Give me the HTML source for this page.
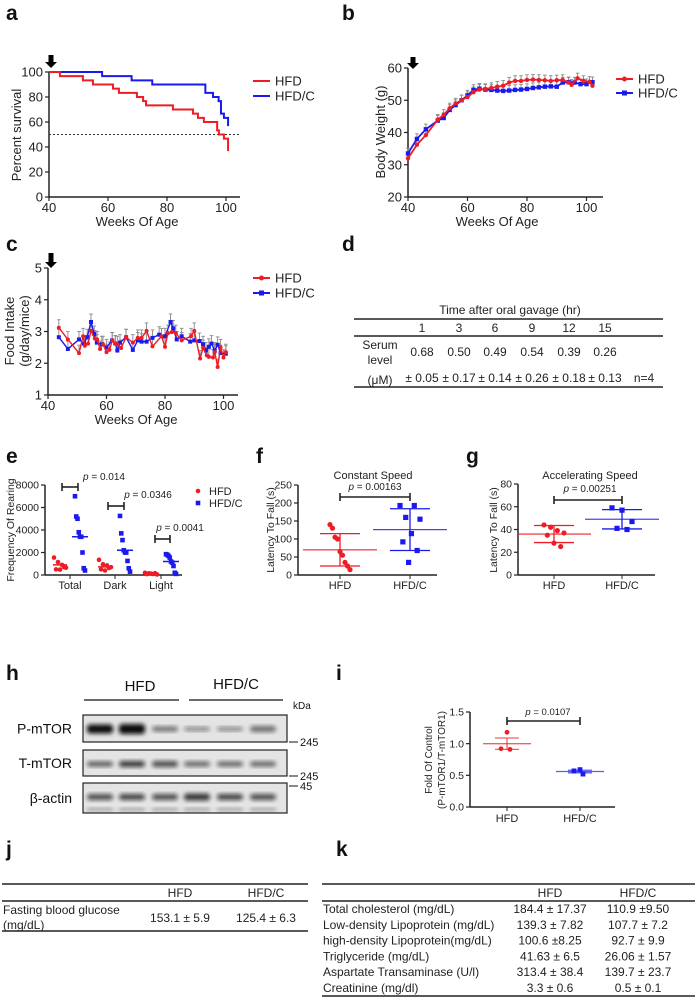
<!DOCTYPE html>
<html><head><meta charset="utf-8"><style>
body{margin:0;background:#fff}
svg{display:block;font-family:"Liberation Sans",sans-serif}
</style></head><body>
<svg id="fig" width="696" height="998" viewBox="0 0 696 998" xmlns="http://www.w3.org/2000/svg">
<defs><filter id="blur" x="-20%" y="-50%" width="140%" height="200%"><feGaussianBlur stdDeviation="2.2"/></filter></defs>
<g font-weight="bold" font-size="21" fill="#111">
<text x="6" y="20">a</text>
<text x="342" y="20">b</text>
<text x="6" y="251">c</text>
<text x="342" y="251">d</text>
<text x="6" y="463">e</text>
<text x="256" y="463">f</text>
<text x="466" y="463">g</text>
<text x="6" y="680">h</text>
<text x="336" y="680">i</text>
<text x="6" y="856">j</text>
<text x="336" y="856">k</text>
</g>
<g font-size="12" fill="#222">
<text x="510" y="314" text-anchor="middle">Time after oral gavage (hr)</text>
<line x1="354" y1="319" x2="663" y2="319" stroke="#222" stroke-width="1.5"/>
<line x1="354" y1="336" x2="663" y2="336" stroke="#222" stroke-width="1.5"/>
<line x1="354" y1="387" x2="663" y2="387" stroke="#222" stroke-width="1.5"/>
<g text-anchor="middle">
<text x="422" y="332">1</text><text x="459" y="332">3</text><text x="495" y="332">6</text><text x="532" y="332">9</text><text x="569" y="332">12</text><text x="605" y="332">15</text>
<text x="380" y="349">Serum</text><text x="380" y="364">level</text><text x="380" y="384">(μM)</text>
<text x="422" y="356">0.68</text><text x="459" y="356">0.50</text><text x="495" y="356">0.49</text><text x="532" y="356">0.54</text><text x="569" y="356">0.39</text><text x="605" y="356">0.26</text>
<text x="422" y="382">± 0.05</text><text x="459" y="382">± 0.17</text><text x="495" y="382">± 0.14</text><text x="532" y="382">± 0.26</text><text x="569" y="382">± 0.18</text><text x="605" y="382">± 0.13</text>
<text x="644" y="382">n=4</text>
</g></g>
<g font-size="12" fill="#222">
<line x1="2" y1="884" x2="308" y2="884" stroke="#222" stroke-width="1.5"/>
<line x1="2" y1="901" x2="308" y2="901" stroke="#222" stroke-width="1.5"/>
<line x1="2" y1="931" x2="308" y2="931" stroke="#222" stroke-width="1.5"/>
<text x="180" y="897" text-anchor="middle">HFD</text><text x="266" y="897" text-anchor="middle">HFD/C</text>
<text x="3" y="914">Fasting blood glucose</text><text x="3" y="929">(mg/dL)</text>
<text x="180" y="922" text-anchor="middle">153.1 ± 5.9</text><text x="266" y="922" text-anchor="middle">125.4 ± 6.3</text>
</g>
<g font-size="12" fill="#222">
<line x1="322" y1="884" x2="695" y2="884" stroke="#222" stroke-width="1.5"/>
<line x1="322" y1="901" x2="695" y2="901" stroke="#222" stroke-width="1.5"/>
<line x1="322" y1="996" x2="695" y2="996" stroke="#222" stroke-width="1.5"/>
<text x="550" y="897" text-anchor="middle">HFD</text><text x="638" y="897" text-anchor="middle">HFD/C</text>
<g id="krows"></g>
</g>
<g id="blot"></g>
<g id="charts"></g>
</svg>
<script>
// ===== DATA =====
const aHfdWeeks=[40,43.7,51.5,54.9,61.7,63.7,69.8,71.9,72.9,82,88.8,90.5,92.5,97,97.6,99.3,100.7];
const aHfdSurv=[100,96.7,93.3,90,86.7,83.3,80,76.7,73.3,70,66.7,63.3,60,53.3,50,46.7,36.7];
const aCWeeks=[40,58,68,75,93,95.6,97.5,98.3,99.3,100.7];
const aCSurv=[100,96.7,93.3,90,83.3,80,76.7,66.7,63.3,56.7];
const xTicks=[40,60,80,100];
const bHfdWeeks=[40,43,46,50,52,54,56,58,60,62,64,66,68,70,72,74,76,78,80,82,84,86,88,90,92,94,95,97,99,101,102];
const bHfdW=[32,36.2,39.2,44,45.5,47.5,49,50,51,52.5,53.3,53.5,53.8,54.2,54.5,55.5,56,56,56.3,56.4,56.3,56.2,56,56.2,56.3,55.5,54.8,56.8,56,55.7,54.5];
const bCWeeks=[40,43,46,50,52,54,56,58,60,62,64,66,68,70,72,74,76,78,80,82,84,86,88,90,92,94,96,98,100,102];
const bCW=[33.5,38,41,43.7,44.5,47,48.5,50,51.5,53.2,53.6,53.3,53.2,53,52.9,53,53.2,53.3,53.5,53.8,54,54.2,54.3,54.2,55.5,55.6,55.5,55,55,55.6];
const bErr=1.6;
const cHfdWeeks=[43.7,46.8,50.6,52,52.6,53.7,54.7,56,56.8,57.8,58.8,60,61,62,63,63.7,65,66.7,69,70.7,72,73.7,75.7,78.8,80,81,82.3,83.7,85.7,88.9,90,92,93,94.3,95,96.4,97,98,99,100,100.8];
const cHfdFood=[3.12,2.75,2.32,2.85,2.55,2.62,3.02,2.78,2.75,2.45,2.6,2.35,2.42,2.72,2.62,2.6,2.48,2.82,2.65,2.8,2.8,3.02,2.53,2.85,2.52,2.95,2.98,2.95,2.72,2.85,3.02,2.15,2.48,2.25,2.2,2.18,2.35,1.88,2.5,2.18,2.35];
const cCWeeks=[43.7,46.8,50.6,52.3,53.4,54.7,55.8,56.7,58.4,60,61.9,63,63.7,64.6,66.7,69,70.7,72,73.7,75.7,78,80,81.9,82.8,84,85.7,88.6,90,91.8,93,94,95,95.9,97,98,99,100.8];
const cCFood=[2.82,2.45,2.75,2.62,2.82,3.3,2.92,2.65,2.6,2.5,2.72,2.62,2.4,2.65,2.82,2.42,2.72,2.68,2.68,2.8,2.9,2.85,3.3,3.1,2.75,2.85,2.68,2.72,2.7,2.6,2.4,2.52,2.62,2.4,2.58,2.32,2.3];
const cErr=0.25;
const eCats=["Total","Dark","Light"];
const eHfd=[[1550,1150,900,650,500,480,700],[1350,950,850,700,500,400,620],[200,150,90,50,80,120,160]];
const eHfdC=[[7000,5200,5000,3800,3400,3400,2000,600,400],[5250,3700,3100,2200,2000,2000,1250,600,300],[1850,1800,1700,1550,1200,1100,800,200,100]];
const eMedHfd=[900,720,110];
const eMedC=[3400,2200,1200];
const ePvals=["p = 0.014","p = 0.0346","p = 0.0041"];
const eYTicks=[0,2000,4000,6000,8000];
const fGroups=["HFD","HFD/C"];
const fHfd=[140,130,105,100,65,55,35,25,15];
const fC=[193,193,160,155,115,92,68,35];
const fMean=[70,126]; const fSd=[45,58];
const fYTicks=[0,50,100,150,200,250];
const gHfd=[44,42,39,37,35,28,25];
const gC=[59,57,47,41,40];
const gMean=[36,49]; const gSd=[7.5,8.5];
const gYTicks=[0,20,40,60,80];
const iHfd=[1.18,0.92,0.91];
const iC=[0.59,0.57,0.52];
const iMean=[1.0,0.56]; const iSem=[0.09,0.02];
const iYTicks=[0.0,0.5,1.0,1.5];
const kLabels=["Total cholesterol (mg/dL)","Low-density Lipoprotein (mg/dL)","high-density Lipoprotein(mg/dL)","Triglyceride (mg/dL)","Aspartate Transaminase (U/l)","Creatinine (mg/dl)"];
const kHfd=["184.4 ± 17.37","139.3 ± 7.82","100.6 ±8.25","41.63 ± 6.5","313.4 ± 38.4","3.3 ± 0.6"];
const kC=["110.9 ±9.50","107.7 ± 7.2","92.7 ± 9.9","26.06 ± 1.57","139.7 ± 23.7","0.5 ± 0.1"];

const NS="http://www.w3.org/2000/svg";
const root=document.getElementById('charts');
function mk(tag,attrs,parent,txt){const e=document.createElementNS(NS,tag);for(const k in attrs)e.setAttribute(k,attrs[k]);if(txt!==undefined)e.textContent=txt;(parent||root).appendChild(e);return e;}
const RED="#ee1c25",BLUE="#1a1aee";

const kr=document.getElementById('krows');
kLabels.forEach((l,i)=>{const y=913+i*15.8;
 let t=mk('text',{x:323,y:y},kr,l);
 
 
 t=mk('text',{x:550,y:y,'text-anchor':'middle'},kr,kHfd[i]);
 
 
 t=mk('text',{x:638,y:y,'text-anchor':'middle'},kr,kC[i]);
 
 
});

function axes(g,x0,y0,x1,yTop,ticksY,sy,ticksX,sx,fs,fmt){
 mk('line',{x1:x0,y1:y0,x2:x0,y2:yTop,stroke:'#222','stroke-width':1.5},g);
 mk('line',{x1:x0,y1:y0,x2:x1,y2:y0,stroke:'#222','stroke-width':1.5},g);
 ticksY.forEach(v=>{const y=sy(v);
  mk('line',{x1:x0-4,y1:y,x2:x0,y2:y,stroke:'#222','stroke-width':1.2},g);
  const t=mk('text',{x:x0-6,y:y+fs*0.35,'text-anchor':'end','font-size':fs,fill:'#222'},g,fmt?fmt(v):v);
  
  
 });
 if(ticksX)ticksX.forEach(v=>{const x=sx(v);
  mk('line',{x1:x,y1:y0,x2:x,y2:y0+4,stroke:'#222','stroke-width':1.2},g);
  const t=mk('text',{x:x,y:y0+15,'text-anchor':'middle','font-size':fs,fill:'#222'},g,v);
  
  
 });
}
function arrow(g,x,y1,y2){mk('rect',{x:x-2.5,y:y1,width:5,height:y2-y1-5},g);mk('polygon',{points:`${x-6},${y2-6} ${x+6},${y2-6} ${x},${y2}`},g);}
function legend(g,x,y,col,label,mark){
 mk('line',{x1:x,y1:y,x2:x+17,y2:y,stroke:col,'stroke-width':2},g);
 if(mark==='c')mk('circle',{cx:x+8.5,cy:y,r:2.5,fill:col},g);
 if(mark==='s')mk('rect',{x:x+6,y:y-2.5,width:5,height:5,fill:col},g);
 const t=mk('text',{x:x+22,y:y+4.5,'font-size':13,fill:'#222'},g,label);
 
 
}
function ylabel(g,x,y,txt,fs){const t=mk('text',{x:x,y:y,'font-size':fs,fill:'#222','text-anchor':'middle',transform:`rotate(-90 ${x} ${y})`},g,txt);
 
 }
function xlabel(g,x,y,txt){const t=mk('text',{x:x,y:y,'font-size':13,fill:'#222','text-anchor':'middle'},g,txt);
 
 }

// ===== Panel a =====
{const g=mk('g',{});
 
 
 const sx=w=>49+(w-40)*59/20, sy=v=>197-v*1.25;
 axes(g,49,197,240,72,[0,20,40,60,80,100],sy,xTicks,sx,13);
 arrow(g,51,55,68);
 mk('line',{x1:49,y1:sy(50),x2:240,y2:sy(50),stroke:'#333','stroke-dasharray':'2,2','stroke-width':1},g);
 function step(T,V,col,name){let d=`M${sx(T[0])},${sy(V[0])}`;for(let i=1;i<T.length;i++){d+=` H${sx(T[i])} V${sy(V[i])}`;}
  const p=mk('path',{d:d,fill:'none',stroke:col,'stroke-width':2},g);
  
  }
 step(aCWeeks,aCSurv,BLUE,'survival-line-hfdc');
 step(aHfdWeeks,aHfdSurv,RED,'survival-line-hfd');
 ylabel(g,21,135,'Percent survival',13); xlabel(g,137,226,'Weeks Of Age');
 legend(g,253,81,RED,'HFD');legend(g,253,96,BLUE,'HFD/C');}

// ===== Panel b =====
{const g=mk('g',{});
 
 
 const sx=w=>408+(w-40)*59.5/20, sy=v=>197-(v-20)*3.225;
 axes(g,408,197,603,68,[20,30,40,50,60],sy,xTicks,sx,13);
 arrow(g,413,57,69);
 [[bHfdWeeks,bHfdW],[bCWeeks,bCW]].forEach(([T,V])=>T.forEach((t,i)=>{const x=sx(t),y=sy(V[i]),y2=sy(V[i]+bErr);
  mk('line',{x1:x,y1:y,x2:x,y2:y2,stroke:'#888','stroke-width':0.9},g);mk('line',{x1:x-1.8,y1:y2,x2:x+1.8,y2:y2,stroke:'#888','stroke-width':0.9},g);}));
 function ser(T,V,col,mark,name){const pts=T.map((t,i)=>`${sx(t)},${sy(V[i])}`).join(' ');
  const p=mk('polyline',{points:pts,fill:'none',stroke:col,'stroke-width':1.8},g);
  
  
  T.forEach((t,i)=>{let m;if(mark==='c')m=mk('circle',{cx:sx(t),cy:sy(V[i]),r:2.2,fill:col},g);else m=mk('rect',{x:sx(t)-2.2,y:sy(V[i])-2.2,width:4.4,height:4.4,fill:col},g);
   
   });}
 ser(bCWeeks,bCW,BLUE,'s','weight-line-hfdc');ser(bHfdWeeks,bHfdW,RED,'c','weight-line-hfd');
 ylabel(g,385,132,'Body Weight (g)',13); xlabel(g,497,226,'Weeks Of Age');
 legend(g,616,79,RED,'HFD','c');legend(g,616,93,BLUE,'HFD/C','s');}

// ===== Panel c =====
{const g=mk('g',{});
 
 
 const sx=w=>48+(w-40)*58.5/20, sy=v=>395-(v-1)*31.75;
 axes(g,48,395,238,268,[1,2,3,4,5],sy,xTicks,sx,13);
 arrow(g,51,253,268);
 [[cHfdWeeks,cHfdFood],[cCWeeks,cCFood]].forEach(([T,V])=>T.forEach((t,i)=>{const x=sx(t),y=sy(V[i]),y2=sy(V[i]+cErr);
  mk('line',{x1:x,y1:y,x2:x,y2:y2,stroke:'#888','stroke-width':0.9},g);mk('line',{x1:x-1.8,y1:y2,x2:x+1.8,y2:y2,stroke:'#888','stroke-width':0.9},g);}));
 function ser(T,V,col,mark,name){const pts=T.map((t,i)=>`${sx(t)},${sy(V[i])}`).join(' ');
  const p=mk('polyline',{points:pts,fill:'none',stroke:col,'stroke-width':1.4},g);
  
  
  T.forEach((t,i)=>{let m;if(mark==='c')m=mk('circle',{cx:sx(t),cy:sy(V[i]),r:2,fill:col},g);else m=mk('rect',{x:sx(t)-2,y:sy(V[i])-2,width:4,height:4,fill:col},g);
   
   });}
 ser(cCWeeks,cCFood,BLUE,'s','food-line-hfdc');ser(cHfdWeeks,cHfdFood,RED,'c','food-line-hfd');
 ylabel(g,14,331,'Food Intake',13);ylabel(g,29,331,'(g/day/mice)',13); xlabel(g,136,424,'Weeks Of Age');
 legend(g,253,278,RED,'HFD','c');legend(g,253,293,BLUE,'HFD/C','s');}

function bracket(g,x1,x2,y,ptxt,px,py,fs){mk('line',{x1:x1,y1:y,x2:x2,y2:y,stroke:'#222','stroke-width':1.6},g);
 mk('line',{x1:x1,y1:y-4,x2:x1,y2:y+4,stroke:'#222','stroke-width':1.6},g);mk('line',{x1:x2,y1:y-4,x2:x2,y2:y+4,stroke:'#222','stroke-width':1.6},g);
 const parts=ptxt.split(' = ');const t=mk('text',{x:px,y:py,'font-size':fs,fill:'#222','text-anchor':'middle'},g);
 mk('tspan',{'font-style':'italic'},t,parts[0]);mk('tspan',{},t,' = '+parts[1]);
 
 }
function jit(n,w){const a=[];for(let i=0;i<n;i++)a.push(((i*37)%n/(n-1||1)-0.5)*w);return a;}

// ===== Panel e =====
{const g=mk('g',{});
 
 
 const sy=v=>575-v*90/8000, cx=[70,115,161];
 axes(g,45,575,182,485,eYTicks,sy,null,null,10.5);
 eCats.forEach((c,i)=>{mk('line',{x1:cx[i],y1:575,x2:cx[i],y2:579,stroke:'#222'},g);
  const t=mk('text',{x:cx[i],y:589,'font-size':11,fill:'#222','text-anchor':'middle'},g,c);
  
  
  const j1=jit(eHfd[i].length,12),j2=jit(eHfdC[i].length,10);
  mk('line',{x1:cx[i]-17,y1:sy(eMedHfd[i]),x2:cx[i]-3,y2:sy(eMedHfd[i]),stroke:RED,'stroke-width':1.5},g);
  mk('line',{x1:cx[i]+2,y1:sy(eMedC[i]),x2:cx[i]+18,y2:sy(eMedC[i]),stroke:BLUE,'stroke-width':1.5},g);
  eHfd[i].forEach((v,k)=>{const m=mk('circle',{cx:cx[i]-10+j1[k],cy:sy(v),r:2.3,fill:RED},g);
   
   });
  eHfdC[i].forEach((v,k)=>{const m=mk('rect',{x:cx[i]+10+j2[k]-2.3,y:sy(v)-2.3,width:4.6,height:4.6,fill:BLUE},g);
   
   });
 });
 bracket(g,62,78,487,ePvals[0],104,480,10);
 bracket(g,108,124,506,ePvals[1],148,498,10);
 bracket(g,155,170,539,ePvals[2],180,531,10);
 ylabel(g,14,530,'Frequency Of Rearing',10.5);
 mk('circle',{cx:198,cy:491,r:2.3,fill:RED},g);mk('rect',{x:195.7,y:500.7,width:4.6,height:4.6,fill:BLUE},g);
 let t=mk('text',{x:209,y:495,'font-size':11,fill:'#222'},g,'HFD');
 
 
 t=mk('text',{x:209,y:507,'font-size':11,fill:'#222'},g,'HFD/C');
 
 }

function scatter(g,name,x0,yTop,xEnd,sy,ticks,gx,d1,d2,mean,sd,title,tx,fmt){
 axes(g,x0,575,xEnd,yTop,ticks,sy,null,null,10.5,fmt);
 fGroups.forEach((c,i)=>{mk('line',{x1:gx[i],y1:575,x2:gx[i],y2:579,stroke:'#222'},g);
  const t=mk('text',{x:gx[i],y:589,'font-size':11,fill:'#222','text-anchor':'middle'},g,c);
  
  });
 [[d1,RED,'c'],[d2,BLUE,'s']].forEach(([d,col,mk2],i)=>{const x=gx[i];
  mk('line',{x1:x-37,y1:sy(mean[i]),x2:x+37,y2:sy(mean[i]),stroke:col,'stroke-width':1.3,opacity:0.8},g);
  mk('line',{x1:x,y1:sy(mean[i]-sd[i]),x2:x,y2:sy(mean[i]+sd[i]),stroke:col,'stroke-width':1.3},g);
  [mean[i]-sd[i],mean[i]+sd[i]].forEach(v=>mk('line',{x1:x-20,y1:sy(v),x2:x+20,y2:sy(v),stroke:col,'stroke-width':1.3},g));
  const j=jit(d.length,20);
  d.forEach((v,k)=>{let m;if(mk2==='c')m=mk('circle',{cx:x+j[k],cy:sy(v),r:2.6,fill:col},g);else m=mk('rect',{x:x+j[k]-2.6,y:sy(v)-2.6,width:5.2,height:5.2,fill:col},g);
   
   });
 });
 if(title){const t=mk('text',{x:tx,y:479,'font-size':11,fill:'#222','text-anchor':'middle'},g,title);
  
  }
}
// ===== Panel f =====
{const g=mk('g',{});
 
 
 const sy=v=>575-v*90/250;
 scatter(g,'constant',298,485,437,sy,fYTicks,[340,410],fHfd,fC,fMean,fSd,'Constant Speed',373);
 bracket(g,340,410,497,'p = 0.00163',375,490,10);
 ylabel(g,274,530,'Latency To Fall (s)',10.5);}
// ===== Panel g =====
{const g=mk('g',{});
 
 
 const sy=v=>575-v*91/80;
 scatter(g,'accelerating',518,484,655,sy,gYTicks,[554,622],gHfd,gC,gMean,gSd,'Accelerating Speed',590);
 bracket(g,554,622,500,'p = 0.00251',590,492,10);
 ylabel(g,497,530,'Latency To Fall (s)',10.5);}
// ===== Panel i =====
{const g=mk('g',{});
 
 
 const sy=v=>807-v*95/1.5, gx=[507,580];
 axes(g,470,807,615,712,iYTicks,sy,null,null,10.5,v=>v.toFixed(1));
 ["HFD","HFD/C"].forEach((c,i)=>{mk('line',{x1:gx[i],y1:807,x2:gx[i],y2:811,stroke:'#222'},g);
  const t=mk('text',{x:gx[i],y:822,'font-size':11,fill:'#222','text-anchor':'middle'},g,c);
  
  });
 [[iHfd,RED,'c'],[iC,BLUE,'s']].forEach(([d,col,m2],i)=>{const x=gx[i];
  mk('line',{x1:x-24,y1:sy(iMean[i]),x2:x+24,y2:sy(iMean[i]),stroke:col,'stroke-width':1.3,opacity:0.7},g);
  mk('line',{x1:x,y1:sy(iMean[i]-iSem[i]),x2:x,y2:sy(iMean[i]+iSem[i]),stroke:col,'stroke-width':1.3,opacity:0.7},g);
  [iMean[i]-iSem[i],iMean[i]+iSem[i]].forEach(v=>mk('line',{x1:x-12,y1:sy(v),x2:x+12,y2:sy(v),stroke:col,'stroke-width':1.3,opacity:0.7},g));
  const j=[0,-6,3];
  d.forEach((v,k)=>{let m;if(m2==='c')m=mk('circle',{cx:x+j[k],cy:sy(v),r:2.4,fill:col},g);else m=mk('rect',{x:x+j[k]-2.4,y:sy(v)-2.4,width:4.8,height:4.8,fill:col},g);
   
   });});
 bracket(g,507,580,721,'p = 0.0107',548,715,9.5);
 ylabel(g,432,760,'Fold Of Control',10);ylabel(g,445,760,'(P-mTOR1/T-mTOR1)',10);}

// ===== Blot h =====
{const g=document.getElementById('blot');
 const lanes=[100,132,165,197,230,263];
 const rows=[{n:'P-mTOR',y:715,h:27,by:729,bw:[1,1,0.55,0.45,0.45,0.55],bh:[9,10,5,4,4,6]},
  {n:'T-mTOR',y:750,h:26,by:764,bw:[0.65,0.8,0.7,0.6,0.6,0.6],bh:[5,6,6,5,5,5]},
  {n:'β-actin',y:783,h:30,by:797,bw:[0.7,0.75,0.7,0.8,0.75,0.7],bh:[6,6,6,7,6,6]}];
 let t=mk('text',{x:140,y:691,'font-size':15,fill:'#111','text-anchor':'middle'},g,'HFD');
 
 
 t=mk('text',{x:236,y:689,'font-size':15,fill:'#111','text-anchor':'middle'},g,'HFD/C');
 
 
 mk('line',{x1:84,y1:700,x2:179,y2:700,stroke:'#111','stroke-width':1.2},g);
 mk('line',{x1:189,y1:700,x2:283,y2:700,stroke:'#111','stroke-width':1.2},g);
 mk('text',{x:293,y:709,'font-size':10,fill:'#111'},g,'kDa');
 rows.forEach(r=>{mk('rect',{x:83,y:r.y,width:204,height:r.h,fill:'#e4e4e4',stroke:'#222','stroke-width':1.2},g);
  const lt=mk('text',{x:72,y:r.y+r.h/2+5,'font-size':14,fill:'#111','text-anchor':'end'},g,r.n);
  
  
  lanes.forEach((x,i)=>{const b=mk('rect',{x:x-13,y:r.by-r.bh[i]/2,width:26,height:r.bh[i],rx:3,fill:'#111',opacity:r.bw[i],filter:'url(#blur)'},g);
   
   });
  if(r.n==='β-actin')lanes.forEach(x=>mk('rect',{x:x-13,y:808,width:26,height:3,fill:'#555',opacity:0.5,filter:'url(#blur)'},g));
 });
 [[742,'245'],[776,'245'],[786,'45']].forEach(([y,s])=>{mk('line',{x1:289,y1:y,x2:298,y2:y,stroke:'#111'},g);mk('text',{x:300,y:y+4,'font-size':11,fill:'#111'},g,s);});
}
</script>
</body></html>
